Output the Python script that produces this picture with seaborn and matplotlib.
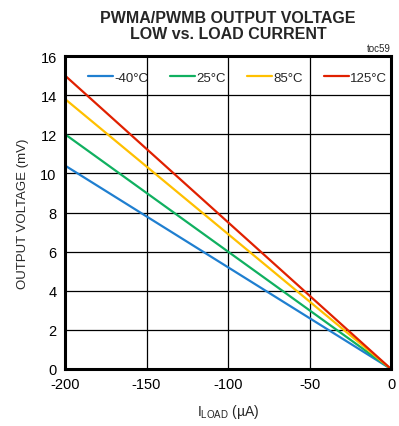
import pandas as pd
import matplotlib.pyplot as plt
import seaborn as sns

sns.set_theme(style="white")
plt.rcParams['font.family'] = ['Liberation Sans', 'DejaVu Sans']
plt.rcParams['axes.unicode_minus'] = False

# data (straight lines, 0 uA -> 0 mV)
load_current = [-200, 0]
temps = ['-40°C', '25°C', '85°C', '125°C']
v_m40 = [10.4, 0.0]
v_25 = [12.0, 0.0]
v_85 = [13.8, 0.0]
v_125 = [15.0, 0.0]
colors = ['#1f7fd0', '#10b060', '#ffc000', '#e02000']

rows = []
for t, vals in zip(temps, [v_m40, v_25, v_85, v_125]):
    for x, y in zip(load_current, vals):
        rows.append({'I': x, 'V': y, 'T': t})
df = pd.DataFrame(rows)

fig = plt.figure(figsize=(3.99, 4.27), dpi=100)
ax = fig.add_axes([0.163, 0.1335, 0.817, 0.733])

sns.lineplot(data=df, x='I', y='V', hue='T', hue_order=temps, palette=colors,
             linewidth=1.6, ax=ax)

ax.set_xlim(-200, 0)
ax.set_ylim(0, 16)
ax.set_xticks([-200, -150, -100, -50, 0])
ax.set_yticks(range(0, 17, 2))
ax.grid(True, color='black', linewidth=0.9)
for s in ax.spines.values():
    s.set_color('black')
    s.set_linewidth(2.2)
ax.tick_params(labelsize=10.5, length=0, pad=6, colors='black')

ax.set_xlabel('I$_{\\mathregular{LOAD}}$ (µA)', fontsize=10, labelpad=8)
ax.set_ylabel('OUTPUT VOLTAGE (mV)', fontsize=9.5, labelpad=8)
ax.set_title('PWMA/PWMB OUTPUT VOLTAGE\nLOW vs. LOAD CURRENT', fontsize=11.5,
             fontweight='bold', pad=13, linespacing=1.1)
ax.text(1.0, 1.01, 'toc59', transform=ax.transAxes, ha='right', va='bottom',
        fontsize=7)

ax.legend(ncol=4, loc='upper center', bbox_to_anchor=(0.53, 1.0), frameon=False,
          fontsize=9.5, handlelength=1.9, columnspacing=1.6, handletextpad=0.1,
          borderaxespad=0.8, title=None)

plt.savefig('out.png', dpi=100)
